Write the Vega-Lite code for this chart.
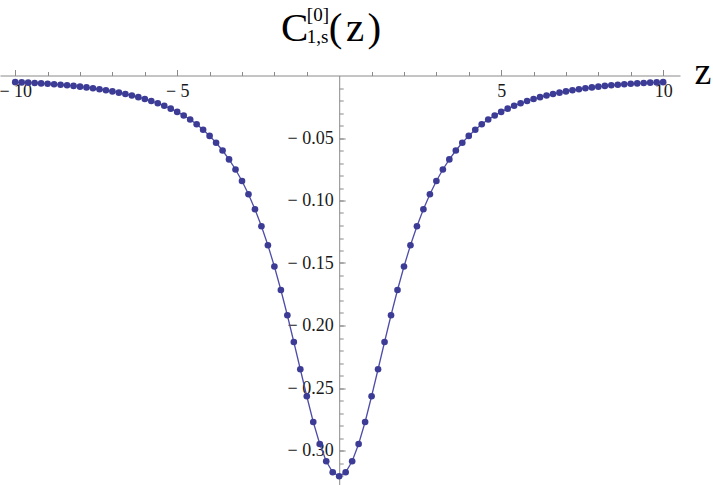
{
  "$schema": "https://vega.github.io/schema/vega-lite/v6.json",
  "width": 680,
  "height": 409.5,
  "autosize": {"type": "none"},
  "padding": {"left": 0, "top": 75.5, "right": 33, "bottom": 0},
  "background": "white",
  "config": {
    "view": {"stroke": null},
    "axis": {
      "grid": false,
      "labelFont": "Liberation Serif",
      "titleFont": "Liberation Serif",
      "domainColor": "#8a8a8a",
      "tickColor": "#8a8a8a",
      "labelColor": "#1a1a1a",
      "titleColor": "#000000",
      "titleFontWeight": "normal",
      "labelFlush": false,
      "labelOverlap": false
    }
  },
  "data": {
    "values": [
      {"z": -10.0, "c": -0.0053}, {"z": -9.8, "c": -0.0055}, {"z": -9.6, "c": -0.0057}, {"z": -9.4, "c": -0.0060}, {"z": -9.2, "c": -0.0063},
      {"z": -9.0, "c": -0.0066}, {"z": -8.8, "c": -0.0070}, {"z": -8.6, "c": -0.0074}, {"z": -8.4, "c": -0.0078}, {"z": -8.2, "c": -0.0083},
      {"z": -8.0, "c": -0.0089}, {"z": -7.8, "c": -0.0095}, {"z": -7.6, "c": -0.0102}, {"z": -7.4, "c": -0.0110}, {"z": -7.2, "c": -0.0118},
      {"z": -7.0, "c": -0.0127}, {"z": -6.8, "c": -0.0137}, {"z": -6.6, "c": -0.0148}, {"z": -6.4, "c": -0.0160}, {"z": -6.2, "c": -0.0173},
      {"z": -6.0, "c": -0.0188}, {"z": -5.8, "c": -0.0204}, {"z": -5.6, "c": -0.0222}, {"z": -5.4, "c": -0.0242}, {"z": -5.2, "c": -0.0265},
      {"z": -5.0, "c": -0.0291}, {"z": -4.8, "c": -0.0320}, {"z": -4.6, "c": -0.0352}, {"z": -4.4, "c": -0.0390}, {"z": -4.2, "c": -0.0434},
      {"z": -4.0, "c": -0.0483}, {"z": -3.8, "c": -0.0538}, {"z": -3.6, "c": -0.0600}, {"z": -3.4, "c": -0.0671}, {"z": -3.2, "c": -0.0752},
      {"z": -3.0, "c": -0.0844}, {"z": -2.8, "c": -0.0950}, {"z": -2.6, "c": -0.1070}, {"z": -2.4, "c": -0.1206}, {"z": -2.2, "c": -0.1358},
      {"z": -2.0, "c": -0.1528}, {"z": -1.8, "c": -0.1716}, {"z": -1.6, "c": -0.1918}, {"z": -1.4, "c": -0.2132}, {"z": -1.2, "c": -0.2350},
      {"z": -1.0, "c": -0.2566}, {"z": -0.8, "c": -0.2772}, {"z": -0.6, "c": -0.2948}, {"z": -0.4, "c": -0.3086}, {"z": -0.2, "c": -0.3174},
      {"z": 0.0, "c": -0.3206},
      {"z": 0.2, "c": -0.3174}, {"z": 0.4, "c": -0.3086}, {"z": 0.6, "c": -0.2948}, {"z": 0.8, "c": -0.2772}, {"z": 1.0, "c": -0.2566},
      {"z": 1.2, "c": -0.2350}, {"z": 1.4, "c": -0.2132}, {"z": 1.6, "c": -0.1918}, {"z": 1.8, "c": -0.1716}, {"z": 2.0, "c": -0.1528},
      {"z": 2.2, "c": -0.1358}, {"z": 2.4, "c": -0.1206}, {"z": 2.6, "c": -0.1070}, {"z": 2.8, "c": -0.0950}, {"z": 3.0, "c": -0.0844},
      {"z": 3.2, "c": -0.0752}, {"z": 3.4, "c": -0.0671}, {"z": 3.6, "c": -0.0600}, {"z": 3.8, "c": -0.0538}, {"z": 4.0, "c": -0.0483},
      {"z": 4.2, "c": -0.0434}, {"z": 4.4, "c": -0.0390}, {"z": 4.6, "c": -0.0352}, {"z": 4.8, "c": -0.0320}, {"z": 5.0, "c": -0.0291},
      {"z": 5.2, "c": -0.0265}, {"z": 5.4, "c": -0.0242}, {"z": 5.6, "c": -0.0222}, {"z": 5.8, "c": -0.0204}, {"z": 6.0, "c": -0.0188},
      {"z": 6.2, "c": -0.0173}, {"z": 6.4, "c": -0.0160}, {"z": 6.6, "c": -0.0148}, {"z": 6.8, "c": -0.0137}, {"z": 7.0, "c": -0.0127},
      {"z": 7.2, "c": -0.0118}, {"z": 7.4, "c": -0.0110}, {"z": 7.6, "c": -0.0102}, {"z": 7.8, "c": -0.0095}, {"z": 8.0, "c": -0.0089},
      {"z": 8.2, "c": -0.0083}, {"z": 8.4, "c": -0.0078}, {"z": 8.6, "c": -0.0074}, {"z": 8.8, "c": -0.0070}, {"z": 9.0, "c": -0.0066},
      {"z": 9.2, "c": -0.0063}, {"z": 9.4, "c": -0.0060}, {"z": 9.6, "c": -0.0057}, {"z": 9.8, "c": -0.0055}, {"z": 10.0, "c": -0.0053}
    ]
  },
  "layer": [
    {
      "mark": {"type": "line", "color": "#4d4da8", "strokeWidth": 1.3},
      "encoding": {
        "x": {
          "field": "z", "type": "quantitative",
          "scale": {"domain": [-10.47, 10.52], "nice": false, "zero": false},
          "axis": {
            "orient": "top",
            "values": [-10, -5, 5, 10],
            "tickSize": 6,
            "labelPadding": -13,
            "labelBaseline": "top",
            "labelFont": "Liberation Serif",
            "labelFontSize": 18,
            "labelExpr": "(datum.value < 0 ? '− ' : '') + format(abs(datum.value), 'd')",
            "title": "z",
            "titleFont": "Liberation Serif",
            "titleX": 694,
            "titleY": 7.5,
            "titleAlign": "left",
            "titleBaseline": "alphabetic",
            "titleAngle": 0,
            "titleFontSize": 38
          }
        },
        "y": {
          "field": "c", "type": "quantitative",
          "scale": {"domain": [-0.3276, 0], "nice": false, "zero": false},
          "axis": {
            "orient": "left",
            "offset": -339.2,
            "values": [-0.30, -0.25, -0.20, -0.15, -0.10, -0.05],
            "tickSize": -6,
            "labelPadding": 12,
            "labelFont": "Liberation Serif",
            "labelFontSize": 18,
            "labelBaseline": "middle",
            "labelExpr": "'− ' + format(abs(datum.value), '.2f')",
            "title": "[0]",
            "titleFont": "Liberation Serif",
            "titleX": -32.9,
            "titleY": -55.5,
            "titleAngle": 0,
            "titleAlign": "left",
            "titleBaseline": "alphabetic",
            "titleFontSize": 19
          }
        }
      }
    },
    {
      "mark": {"type": "point", "filled": true, "color": "#3c3c96", "size": 44, "opacity": 1},
      "encoding": {
        "x": {
          "field": "z", "type": "quantitative",
          "scale": {"domain": [-10.47, 10.52], "nice": false, "zero": false},
          "axis": {
            "orient": "bottom",
            "offset": -409.5,
            "values": [-10, -9, -8, -7, -6, -5, -4, -3, -2, -1, 1, 2, 3, 4, 5, 6, 7, 8, 9, 10],
            "tickSize": -4,
            "labels": false,
            "domain": false,
            "title": "C\u00a0\u00a0(\u200az\u200a)",
            "titleFont": "Liberation Serif",
            "titleX": 280.5,
            "titleY": -35.5,
            "titleAlign": "left",
            "titleBaseline": "alphabetic",
            "titleAngle": 0,
            "titleFontSize": 41
          }
        },
        "y": {
          "field": "c", "type": "quantitative",
          "scale": {"domain": [-0.3276, 0], "nice": false, "zero": false},
          "axis": {
            "orient": "right",
            "offset": -340.8,
            "values": [-0.32, -0.31, -0.30, -0.29, -0.28, -0.27, -0.26, -0.25, -0.24, -0.23, -0.22, -0.21, -0.20, -0.19, -0.18, -0.17, -0.16, -0.15, -0.14, -0.13, -0.12, -0.11, -0.10, -0.09, -0.08, -0.07, -0.06, -0.05, -0.04, -0.03, -0.02, -0.01],
            "tickSize": 4,
            "labels": false,
            "domain": false,
            "title": "1,s",
            "titleFont": "Liberation Serif",
            "titleX": -32.9,
            "titleY": -33.3,
            "titleAngle": 0,
            "titleAlign": "left",
            "titleBaseline": "alphabetic",
            "titleFontSize": 19
          }
        }
      }
    }
  ],
  "resolve": {"axis": {"x": "independent", "y": "independent"}}
}
